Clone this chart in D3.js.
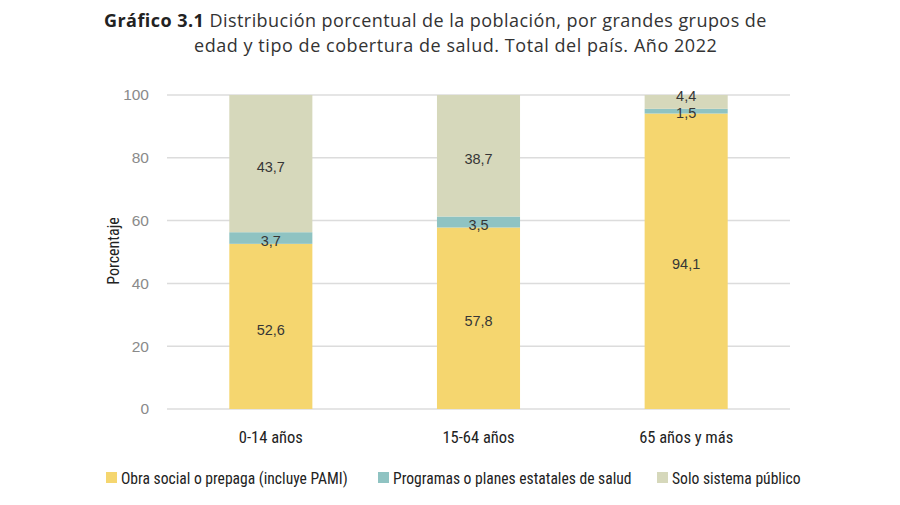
<!DOCTYPE html>
<html><head><meta charset="utf-8">
<script src="https://cdn.jsdelivr.net/npm/d3@7"></script>
<style>body{margin:0;background:#fff}</style>
</head><body>
<svg id="c" width="900" height="505"></svg>
<script>
const categories = ["0-14 años", "15-64 años", "65 años y más"];
const seriesNames = ["Obra social o prepaga (incluye PAMI)", "Programas o planes estatales de salud", "Solo sistema público"];
const obraSocial = [52.6, 57.8, 94.1];
const programas = [3.7, 3.5, 1.5];
const soloPublico = [43.7, 38.7, 4.4];
const yTicks = [0, 20, 40, 60, 80, 100];
const colors = ["#F5D66F", "#8FC3C2", "#D6D8BB"];

const svg = d3.select("#c");
const narrow = "'Liberation Sans Narrow','Arial Narrow','Roboto Condensed',sans-serif";
const x = d3.scaleBand().domain(categories).range([167, 790]).paddingInner(0.6).paddingOuter(0.3);
const y = d3.scaleLinear().domain([0, 100]).range([409, 95]);

// title
const titleFont = "'Open Sans','Noto Sans',sans-serif";
const t = svg.append("text").attr("x", 104).attr("y", 27)
  .style("font-family", titleFont).style("font-size", "18px").style("letter-spacing", "0.45px").attr("fill", "#333");
t.append("tspan").attr("font-weight", "bold").attr("fill", "#222").text("Gráfico 3.1 ");
t.append("tspan").text("Distribución porcentual de la población, por grandes grupos de");
svg.append("text").attr("x", 194).attr("y", 52)
  .style("font-family", titleFont).style("font-size", "18px").style("letter-spacing", "0.55px").attr("fill", "#333")
  .text("edad y tipo de cobertura de salud. Total del país. Año 2022");

// grid
svg.append("g").selectAll("line").data(yTicks).join("line")
  .attr("x1", 167).attr("x2", 790).attr("y1", d => y(d)).attr("y2", d => y(d))
  .attr("stroke", "#dcdcdc").attr("stroke-width", 1.5);

// y axis labels
const yAxis = d3.axisLeft(y).tickValues(yTicks).tickSize(0).tickPadding(0);
const ga = svg.append("g").attr("transform", "translate(149,0)").call(yAxis);
ga.select(".domain").remove();
ga.selectAll("text").style("font-family", "'Liberation Sans',Arial,sans-serif").style("font-size", "15.5px").attr("fill", "#8a8a8a");

svg.append("text").attr("transform", "translate(113,251) rotate(-90)").attr("text-anchor", "middle").attr("dy", "0.36em")
  .style("font-family", narrow).style("font-size", "16px").attr("fill", "#222").text("Porcentaje");

// stacks
const data = categories.map((c, i) => ({cat: c, s0: obraSocial[i], s1: programas[i], s2: soloPublico[i]}));
const stack = d3.stack().keys(["s0", "s1", "s2"])(data);
const g = svg.append("g");
stack.forEach((layer, li) => {
  g.selectAll(null).data(layer).join("rect")
    .attr("x", d => x(d.data.cat)).attr("width", x.bandwidth())
    .attr("y", d => y(d[1])).attr("height", d => y(d[0]) - y(d[1]))
    .attr("fill", colors[li]);
});
const fmt = v => v.toFixed(1).replace(".", ",");
stack.forEach((layer, li) => {
  g.selectAll(null).data(layer).join("text")
    .attr("x", d => x(d.data.cat) + x.bandwidth() / 2)
    .attr("y", d => {
      const v = d[1] - d[0];
      let cy = y((d[0] + d[1]) / 2) + 3;
      if (v < 5 && d.data.s0 > 90) cy = li === 2 ? y(d[1]) + 1 : y(d[1]) + 4;
      return cy;
    })
    .attr("dy", "0.36em").attr("text-anchor", "middle")
    .style("font-family", "'Liberation Sans',Arial,sans-serif").style("font-size", "14.5px").attr("fill", "#363636")
    .text(d => fmt(d[1] - d[0]));
});

// x labels
const gx = svg.append("g").attr("transform", "translate(0,437)").call(d3.axisBottom(x).tickSize(0).tickPadding(0));
gx.select(".domain").remove();
gx.selectAll("text").attr("dy", "0.36em").style("font-family", narrow).style("font-size", "16.5px").attr("fill", "#222");

// legend
const legX = [106, 378, 657];
const lg = svg.append("g");
seriesNames.forEach((n, i) => {
  lg.append("rect").attr("x", legX[i]).attr("y", 472).attr("width", 11).attr("height", 11).attr("fill", colors[i]);
  lg.append("text").attr("x", legX[i] + 15).attr("y", 478).attr("dy", "0.36em")
    .style("font-family", narrow).style("font-size", "15.6px").attr("fill", "#222").text(n);
});
</script>
</body></html>
